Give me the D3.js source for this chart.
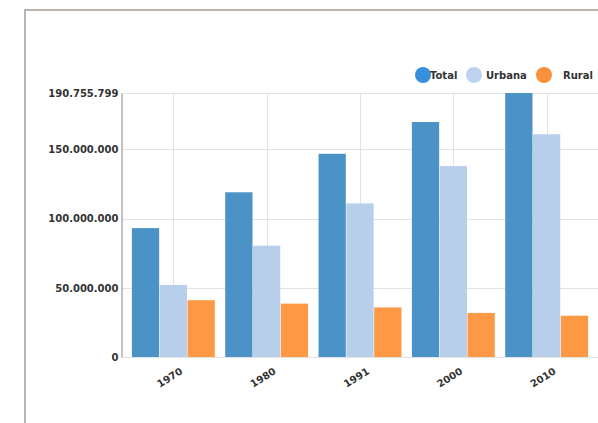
<!DOCTYPE html>
<html>
<head>
<meta charset="utf-8">
<script src="https://cdnjs.cloudflare.com/ajax/libs/d3/7.8.5/d3.min.js"></script>
<style>
  body { margin: 0; background: #fff; }
  svg text { font-family: "DejaVu Sans", sans-serif; font-weight: bold; fill: #333; }
</style>
</head>
<body>
<div id="graph"></div>
<script>
const width = 598;
const height = 423;

const years = ["1970", "1980", "1991", "2000", "2010"];
const seriesNames = ["Total", "Urbana", "Rural"];
const total = [93134846, 119011052, 146825475, 169799170, 190755799];
const urbana = [52097260, 80437327, 110990990, 137953959, 160925792];
const rural = [41037586, 38573725, 35834485, 31845211, 29830007];
const yTicks = [0, 50000000, 100000000, 150000000, 190755799];

const barColors = ["#4b92c6", "#b7cfeb", "#fd9845"];
const legendColors = ["#3890dc", "#bcd2ee", "#f7913a"];

const rows = years.map((y, i) => ({year: y, values: [total[i], urbana[i], rural[i]]}));

const svg = d3.select("#graph")
              .append("svg")
              .attr("width", width)
              .attr("height", height);

// outer frame
svg.append("rect")
   .attr("x", 25)
   .attr("y", 10)
   .attr("width", 600)
   .attr("height", 430)
   .attr("fill", "none")
   .attr("stroke", "#a59b92")
   .attr("stroke-width", 1.5);

const x0 = d3.scaleBand()
             .domain(years)
             .range([122, 598])
             .paddingInner(0.1)
             .paddingOuter(0.1);

const x1 = d3.scaleBand()
             .domain(seriesNames)
             .range([0, x0.bandwidth()])
             .padding(0.02);

const y = d3.scaleLinear()
            .domain([0, d3.max(total)])
            .range([357, 93]);

const fmt = v => d3.format(",d")(v).replace(/,/g, ".");

// grid
svg.append("g")
   .selectAll("line")
   .data(yTicks)
   .enter()
   .append("line")
   .attr("x1", 122)
   .attr("x2", width)
   .attr("y1", d => Math.round(y(d)) + 0.5)
   .attr("y2", d => Math.round(y(d)) + 0.5)
   .attr("stroke", "#e3e3e3");

svg.append("g")
   .selectAll("line")
   .data(years)
   .enter()
   .append("line")
   .attr("x1", d => Math.round(x0(d) + x0.bandwidth() / 2) + 0.5)
   .attr("x2", d => Math.round(x0(d) + x0.bandwidth() / 2) + 0.5)
   .attr("y1", y.range()[1])
   .attr("y2", y.range()[0])
   .attr("stroke", "#e3e3e3");

// bars
const group = svg.append("g")
                 .selectAll("g")
                 .data(rows)
                 .enter()
                 .append("g")
                 .attr("transform", d => `translate(${x0(d.year)},0)`);

group.selectAll("rect")
     .data(d => d.values.map((v, i) => ({key: seriesNames[i], value: v, i: i})))
     .enter()
     .append("rect")
     .attr("x", d => x1(d.key))
     .attr("width", x1.bandwidth())
     .attr("y", d => y(d.value))
     .attr("height", d => y(0) - y(d.value))
     .attr("fill", d => barColors[d.i]);

// y axis
const yAxis = svg.append("g")
                 .attr("transform", "translate(121.5,0)")
                 .call(d3.axisLeft(y).tickValues(yTicks).tickFormat(fmt).tickSize(0).tickPadding(3));
yAxis.select(".domain").attr("stroke", "#9a9a9a").attr("stroke-width", 1.2);
yAxis.selectAll("text").style("font-size", "10px").attr("fill", "#333");

// x axis labels
const xAxis = svg.append("g")
                 .attr("transform", "translate(0,357)")
                 .call(d3.axisBottom(x0).tickSize(0).tickPadding(12));
xAxis.select(".domain").remove();
xAxis.selectAll("text")
     .style("font-size", "10px")
     .attr("fill", "#333")
     .attr("text-anchor", "end")
     .attr("dx", "0em")
     .attr("dy", "0.7em")
     .attr("transform", "rotate(-32)");

// legend
const legendX = [423, 474, 544];
const legendDx = [7, 12, 19];
const legend = svg.append("g")
                  .selectAll("g")
                  .data(seriesNames)
                  .enter()
                  .append("g")
                  .attr("transform", (d, i) => `translate(${legendX[i]},75)`);

legend.append("circle")
      .attr("r", 8)
      .attr("fill", (d, i) => legendColors[i]);

legend.append("text")
      .attr("x", (d, i) => legendDx[i])
      .attr("y", 4)
      .style("font-size", "10px")
      .attr("fill", "#444")
      .text(d => d);
</script>
</body>
</html>
